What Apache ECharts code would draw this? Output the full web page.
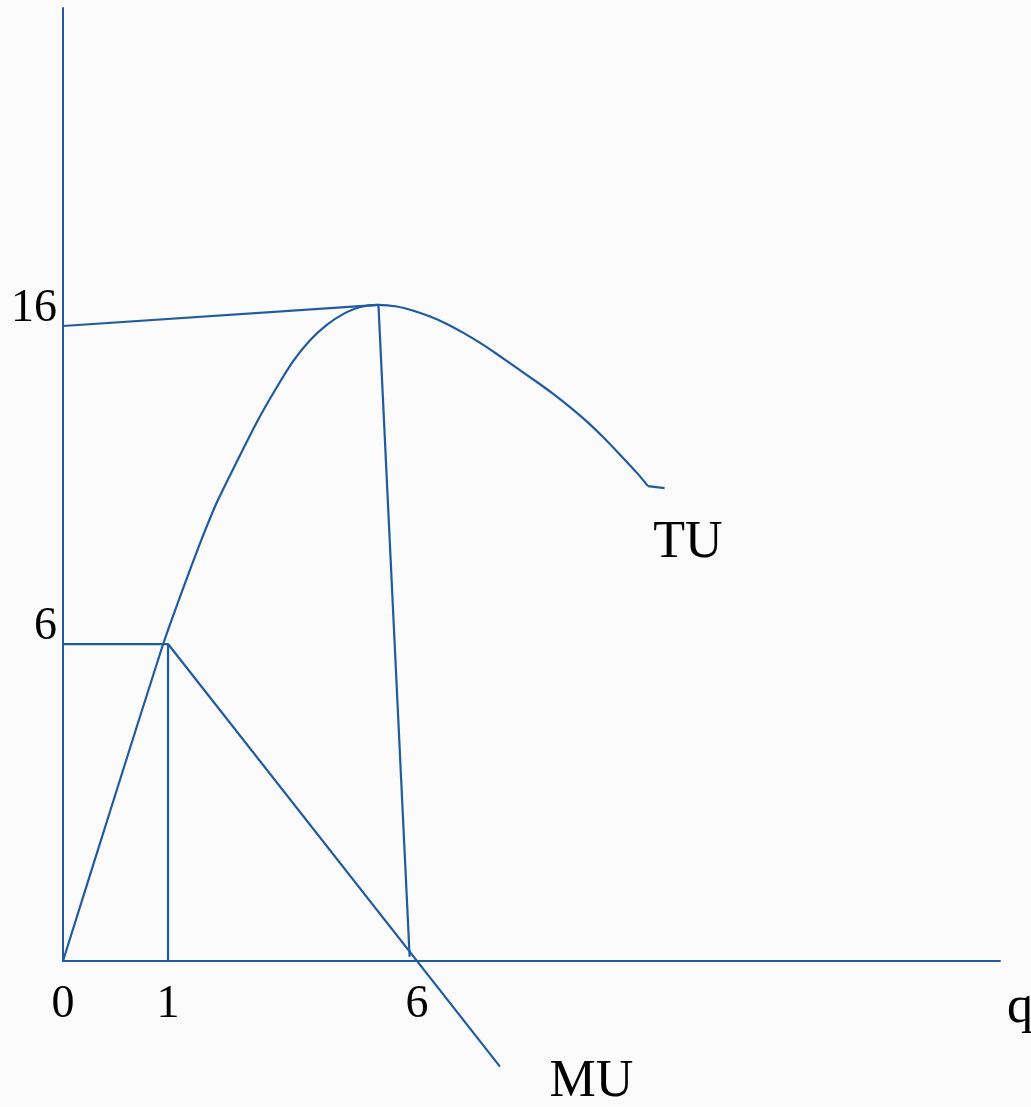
<!DOCTYPE html>
<html>
<head>
<meta charset="utf-8">
<style>
  html, body { margin: 0; padding: 0; background: #fbfbfb; }
  #chart { width: 1031px; height: 1107px; }
</style>
<script src="https://cdn.jsdelivr.net/npm/echarts@6/dist/echarts.min.js"></script>
</head>
<body>
<div id="chart"></div>
<script>
// sketch units: x in steps of "1" on the q axis, y in steps of the "6" height
// TU curve (total utility)
var tuX = [0, 0.476, 0.955, 1.146, 1.305, 1.464, 1.654, 1.845, 2.035, 2.193, 2.352, 2.511, 2.670, 2.829, 3.003,
           3.178, 3.336, 3.495, 3.654, 3.812, 3.971, 4.130, 4.289, 4.511, 4.670, 4.829, 4.988, 5.146, 5.305, 5.464, 5.569];
var tuY = [0, 3.01, 6.01, 7.07, 7.91, 8.68, 9.45, 10.20, 10.86, 11.36, 11.75, 12.04, 12.25, 12.38, 12.42,
           12.39, 12.31, 12.20, 12.06, 11.89, 11.70, 11.49, 11.27, 10.96, 10.73, 10.48, 10.21, 9.91, 9.58, 9.24, 8.99];
var tuTailX = [5.569, 5.727];
var tuTailY = [8.99, 8.95];

// MU line (marginal utility)
var muX = [0, 1, 4.16];
var muY = [6, 6, -2.0];

// guide lines
var guide16X = [0, 3.003];
var guide16Y = [12.02, 12.42];
var peakDropX = [3.003, 3.30];
var peakDropY = [12.42, 0.08];
var guide1X = [1, 1];
var guide1Y = [6, 0];

// tick labels
var xTickValues = [0, 1, 3.37];
var xTickLabels = ['0', '1', '6'];
var yTickValues = [6, 12.02];
var yTickLabels = ['6', '16'];

// curve names
var curveNames = ['TU', 'MU', 'q'];
var curveNameX = [5.95, 5.03, 9.11];
var curveNameY = [7.91, -2.29, -0.89];

var blue = '#1f5b9e';
var ink = '#000';
var font = 'Liberation Serif';

function pairs(xs, ys) {
    return xs.map(function (x, i) { return [x, ys[i]]; });
}

function lineSeries(name, xs, ys, smooth) {
    return {
        name: name,
        type: 'line',
        data: pairs(xs, ys),
        smooth: smooth || false,
        showSymbol: false,
        clip: false,
        lineStyle: { color: blue, width: 2.2 },
        silent: true
    };
}

var chart = echarts.init(document.getElementById('chart'));

var option = {
    backgroundColor: '#fbfbfb',
    animation: false,
    grid: {
        left: 63,
        right: 31,
        top: 8,
        bottom: 146,
        containLabel: false,
        outerBoundsMode: 'none'
    },
    xAxis: {
        type: 'value',
        min: 0,
        max: 8.92,
        axisLine: { show: true, lineStyle: { color: blue, width: 2 } },
        axisTick: { show: false },
        splitLine: { show: false },
        axisLabel: {
            customValues: xTickValues,
            margin: 21,
            fontFamily: font,
            fontSize: 46,
            lineHeight: 46,
            color: ink,
            formatter: function (v) {
                var i = xTickValues.indexOf(v);
                return i >= 0 ? xTickLabels[i] : '';
            }
        }
    },
    yAxis: {
        type: 'value',
        min: 0,
        max: 18.04,
        axisLine: { show: true, lineStyle: { color: blue, width: 2 } },
        axisTick: { show: false },
        splitLine: { show: false },
        axisLabel: {
            customValues: yTickValues,
            margin: 6,
            fontFamily: font,
            fontSize: 46,
            lineHeight: 34,
            verticalAlign: 'bottom',
            color: ink,
            formatter: function (v) {
                var i = yTickValues.indexOf(v);
                return i >= 0 ? yTickLabels[i] : '';
            }
        }
    },
    series: [
        lineSeries('TU', tuX, tuY, 0.2),
        lineSeries('TU tail', tuTailX, tuTailY),
        lineSeries('MU', muX, muY),
        lineSeries('guide 16', guide16X, guide16Y),
        lineSeries('peak drop', peakDropX, peakDropY),
        lineSeries('guide 1', guide1X, guide1Y),
        {
            name: 'names',
            type: 'scatter',
            symbolSize: 0,
            clip: false,
            silent: true,
            itemStyle: { opacity: 1 },
            data: curveNames.map(function (n, i) {
                return { name: n, value: [curveNameX[i], curveNameY[i]] };
            }),
            label: {
                show: true,
                position: 'inside',
                formatter: '{b}',
                fontFamily: font,
                fontSize: 52,
                color: ink,
                opacity: 1,
                textBorderWidth: 0
            }
        }
    ]
};

chart.setOption(option);
</script>
</body>
</html>
